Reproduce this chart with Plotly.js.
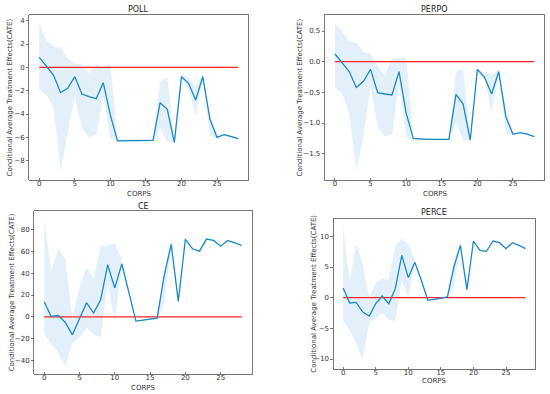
<!DOCTYPE html>
<html><head><meta charset="utf-8">
<script src="https://cdn.plot.ly/plotly-3.0.1.min.js"></script>
<style>html,body{margin:0;padding:0;background:#fff}#chart{width:550px;height:394px}</style>
</head><body><div id="chart"></div>
<script>
const corps = Array.from({length: 29}, (_, i) => i);

const pollCate  = [0.86,0.1,-0.66,-2.17,-1.8,-0.8,-2.29,-2.51,-2.69,-1.31,-4.09,-6.31,-6.29,-6.26,-6.26,-6.26,-6.26,-3.03,-3.6,-6.43,-0.8,-1.37,-2.8,-0.8,-4.43,-6.0,-5.77,-5.94,-6.11];
const pollUpper = [3.77,2.34,1.77,1.71,0.77,0.34,0.3,-0.5,0.3,0.0,0.34,-6.15,-6.15,-6.15,-6.15,-6.15,-6.15,-1.23,-0.86,-6.2,-0.6,-0.9,-1.6,-0.6,-4.0,-5.9,-5.7,-5.85,-6.0];
const pollLower = [-1.89,-2.37,-3.37,-8.94,-5.66,-2.5,-5.2,-6.0,-5.8,-2.5,-6.1,-6.4,-6.4,-6.35,-6.35,-6.35,-6.35,-5.23,-6.37,-6.5,-1.0,-1.8,-4.2,-1.0,-5.8,-6.1,-5.85,-6.05,-6.2];

const perpoCate  = [0.125,-0.016,-0.16,-0.42,-0.32,-0.125,-0.505,-0.527,-0.543,-0.163,-0.84,-1.25,-1.26,-1.266,-1.266,-1.266,-1.266,-0.533,-0.69,-1.277,-0.125,-0.255,-0.527,-0.163,-0.897,-1.185,-1.158,-1.18,-1.223];
const perpoUpper = [0.625,0.49,0.33,0.31,0.16,0.125,-0.08,-0.22,0.05,0.065,0.065,-1.24,-1.24,-1.25,-1.25,-1.25,-1.25,-0.16,-0.11,-1.22,-0.1,-0.18,-0.2,-0.13,-0.8,-1.17,-1.15,-1.17,-1.21];
const perpoLower = [-0.42,-0.52,-0.84,-1.79,-1.22,-0.41,-1.06,-1.22,-1.2,-0.35,-1.22,-1.28,-1.28,-1.28,-1.28,-1.28,-1.28,-1.0,-1.28,-1.3,-0.15,-0.3,-0.82,-0.2,-1.17,-1.2,-1.17,-1.19,-1.23];

const ceCate  = [13.8,0.3,1.2,-5.2,-16.6,-1.2,12.9,3.4,15.7,47.7,26.5,48.6,22.5,-4.0,-3.1,-2.2,-1.2,37.8,66.5,14.2,71.1,62.5,60.3,71.4,70.2,64.9,70.2,68.0,65.5];
const ceUpper = [88.6,42.5,62.5,53,-2,27,45.5,35,65.5,65.5,67.7,53,24,-3.5,-2.6,-1.7,-0.7,42.5,70.8,15,71.6,63,60.8,71.9,70.7,65.4,70.7,68.5,66];
const ceLower = [-16,-25,-33,-45,-24,-19,-10,-16.6,-18.5,30,-3.7,44,21,-4.5,-3.6,-2.7,-1.7,11.7,64,13.4,70.6,62,59.8,70.9,69.7,64.4,69.7,67.5,65];

const perceCate  = [1.58,-0.87,-0.76,-2.34,-2.99,-0.98,0.27,-0.98,1.47,6.9,3.26,5.76,2.83,-0.43,-0.27,-0.11,0.11,5.0,8.53,1.3,9.24,7.72,7.55,9.24,8.97,7.99,8.97,8.53,7.99];
const perceUpper = [11.5,2.8,8.7,5.5,0.1,2.4,3.2,2.9,8.5,9.6,8.8,6.1,2.9,-0.35,-0.2,-0.05,0.2,6.1,9.2,1.4,9.3,7.8,7.6,9.3,9.0,8.05,9.0,8.6,8.05];
const perceLower = [-3.7,-5.3,-7.5,-10.2,-4.0,-3.4,-2.5,-3.6,-3.8,2.8,0.1,5.5,2.5,-0.5,-0.35,-0.2,0.0,1.7,8.3,1.2,9.15,7.65,7.5,9.15,8.9,7.9,8.9,8.45,7.9];

// box: [left, right, top, bottom] in px; ttl: title centre y; xl: x-label centre y; yl: y-label centre x
const panels = [
  {name:'POLL',  cate:pollCate,  up:pollUpper,  lo:pollLower,  box:[29.3,248.3,15,180],   yr:[-9.66,4.49],  xr:[-1.4,29.4], dt:2,   tf:'d',   ttl:9,   xl:193.5, yl:10},
  {name:'PERPO', cate:perpoCate, up:perpoUpper, lo:perpoLower, box:[325,544.3,15,180],    yr:[-1.929,0.761], xr:[-1.4,29.4], dt:0.5, tf:'.1f', ttl:9,   xl:193.5, yl:300},
  {name:'CE',    cate:ceCate,    up:ceUpper,    lo:ceLower,    box:[34.3,251.7,211,373.7], yr:[-52.3,97.2], xr:[-1.4,29.4], dt:20,  tf:'d',   ttl:206, xl:388, yl:12},
  {name:'PERCE', cate:perceCate, up:perceUpper, lo:perceLower, box:[333.7,535,218.7,368.7], yr:[-11.58,12.88], xr:[-1.45,29.45], dt:5, tf:'d', ttl:212.5, xl:381, yl:314}
];

const W = 550, H = 394;
const traces = [];
const layout = {
  width: W, height: H,
  margin: {l:0, r:0, t:0, b:0},
  paper_bgcolor: '#fff', plot_bgcolor: '#fff',
  showlegend: false,
  font: {family: 'DejaVu Sans', size: 7, color: '#333'},
  annotations: []
};

panels.forEach((p, k) => {
  const n = k + 1;
  const xa = 'x' + (n === 1 ? '' : n), ya = 'y' + (n === 1 ? '' : n);
  const xk = 'xaxis' + (n === 1 ? '' : n), yk = 'yaxis' + (n === 1 ? '' : n);
  const [x0, x1, y0, y1] = p.box;
  traces.push({x: corps, y: p.up, xaxis: xa, yaxis: ya, mode: 'lines', line: {width: 0, color: 'rgba(0,0,0,0)'}, hoverinfo: 'skip'});
  traces.push({x: corps, y: p.lo, xaxis: xa, yaxis: ya, mode: 'lines', line: {width: 0, color: 'rgba(0,0,0,0)'}, fill: 'tonexty', fillcolor: 'rgba(195,222,242,0.45)', hoverinfo: 'skip'});
  traces.push({x: [corps[0], corps[corps.length - 1]], y: [0, 0], xaxis: xa, yaxis: ya, mode: 'lines', line: {width: 1.2, color: '#f22'}});
  traces.push({x: corps, y: p.cate, xaxis: xa, yaxis: ya, mode: 'lines', line: {width: 1.3, color: '#1b8ac4'}});
  const common = {showgrid: false, zeroline: false, showline: true, mirror: true, linecolor: '#555', linewidth: 0.8,
                  tickwidth: 0.8, tickcolor: '#555', tickfont: {size: 7, color: '#333'}};
  layout[xk] = Object.assign({}, common, {domain: [x0 / W, x1 / W], range: p.xr, anchor: ya, dtick: 5, tick0: 0,
    ticks: 'inside', ticklen: 2, ticklabelstandoff: -3});
  layout[yk] = Object.assign({}, common, {domain: [1 - y1 / H, 1 - y0 / H], range: p.yr, anchor: xa, dtick: p.dt, tick0: 0, tickformat: p.tf,
    ticks: 'outside', ticklen: 2.5});
  layout.annotations.push({text: p.name, xref: 'paper', yref: 'paper', x: (x0 + x1) / 2 / W, y: 1 - p.ttl / H,
    xanchor: 'center', yanchor: 'middle', showarrow: false, font: {size: 8, color: '#222'}});
  layout.annotations.push({text: 'CORPS', xref: 'paper', yref: 'paper', x: (x0 + x1) / 2 / W, y: 1 - p.xl / H,
    xanchor: 'center', yanchor: 'middle', showarrow: false, font: {size: 7, color: '#333'}});
  layout.annotations.push({text: 'Conditional Average Treatment Effects(CATE)', xref: 'paper', yref: 'paper', x: p.yl / W, y: 1 - (y0 + y1) / 2 / H,
    xanchor: 'center', yanchor: 'middle', textangle: -90, showarrow: false, font: {size: 7, color: '#333'}});
});

Plotly.newPlot('chart', traces, layout, {staticPlot: true});
</script></body></html>
